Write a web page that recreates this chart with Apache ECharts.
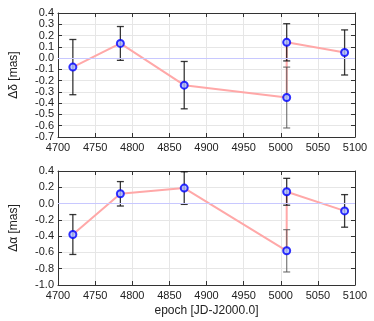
<!DOCTYPE html>
<html><head><meta charset="utf-8">
<script src="https://cdn.jsdelivr.net/npm/echarts@6/dist/echarts.min.js"></script>
<style>html,body{margin:0;padding:0;background:#fff}#c{width:374px;height:321px}</style>
</head><body><div id="c"></div>
<script>
// Epochs (JD - J2000.0), in line order
const epochs = [4720, 4784, 4870, 5008, 5008, 5086];
// Top panel: Δδ [mas]
const dDelta = [-0.08, 0.13, -0.24, -0.35, 0.14, 0.05];
const dDeltaErr = [0.245, 0.15, 0.21, 0.27, 0.165, 0.2];
// Bottom panel: Δα [mas]
const dAlpha = [-0.38, 0.12, 0.19, -0.58, 0.145, -0.09];
const dAlphaErr = [0.245, 0.15, 0.2, 0.26, 0.165, 0.2];
const DIM_INDEX = 3;

const font = 'Liberation Sans, Arial, sans-serif';
const chart = echarts.init(document.getElementById('c'), null, {renderer: 'canvas'});

function pts(ys, errs) { return epochs.map((x, i) => errs ? [x, ys[i], errs[i]] : [x, ys[i]]); }

function errRender(params, api) {
  const x = api.value(0), y = api.value(1), e = api.value(2);
  const top = api.coord([x, y + e]);
  const bot = api.coord([x, y - e]);
  const half = 3.5;
  const dim = params.dataIndex === DIM_INDEX;
  const style = {stroke: dim ? 'rgba(90,90,90,0.75)' : 'rgba(20,20,20,0.85)', lineWidth: 1.3, fill: null};
  return {type: 'group', children: [
    {type: 'line', shape: {x1: top[0], y1: top[1], x2: bot[0], y2: bot[1]}, style},
    {type: 'line', shape: {x1: top[0]-half, y1: top[1], x2: top[0]+half, y2: top[1]}, style},
    {type: 'line', shape: {x1: bot[0]-half, y1: bot[1], x2: bot[0]+half, y2: bot[1]}, style}
  ]};
}

const grids = [
  {left: 54, top: 13, width: 301, height: 124},
  {left: 54, top: 171, width: 301, height: 114}
];
const axisLine = {show: true, onZero: false, lineStyle: {color: '#333', width: 1}};
const tick = {show: true, inside: true, length: 4, lineStyle: {color: '#333'}};
const label = {color: '#222', fontSize: 11, fontFamily: font};
const split = {show: true, lineStyle: {color: '#e6e6e6', width: 1}};

const xAxes = [], yAxes = [];
[0, 1].forEach(g => {
  xAxes.push({type: 'value', gridIndex: g, min: 4700, max: 5100, interval: 50, position: 'bottom',
    axisLine, axisTick: tick, splitLine: split,
    axisLabel: Object.assign({margin: 5, formatter: v => String(v)}, label),
    name: g === 1 ? 'epoch [JD-J2000.0]' : '', nameLocation: 'middle', nameGap: 20,
    nameTextStyle: {color: '#222', fontSize: 12, fontFamily: font}});
  xAxes.push({type: 'value', gridIndex: g, min: 4700, max: 5100, interval: 50, position: 'top',
    axisLine, axisTick: tick, splitLine: {show: false}, axisLabel: {show: false}});
});
const yRanges = [[-0.7, 0.4, 0.1, 'Δδ [mas]'], [-1.0, 0.4, 0.2, 'Δα [mas]']];
[0, 1].forEach(g => {
  const r = yRanges[g];
  yAxes.push({type: 'value', gridIndex: g, min: r[0], max: r[1], interval: r[2], position: 'left',
    axisLine, axisTick: tick, splitLine: split,
    axisLabel: Object.assign({margin: 4, formatter: v => v.toFixed(1)}, label),
    name: r[3], nameLocation: 'middle', nameGap: 38, nameRotate: 90,
    nameTextStyle: {color: '#222', fontSize: 12, fontFamily: font}});
  yAxes.push({type: 'value', gridIndex: g, min: r[0], max: r[1], interval: r[2], position: 'right',
    axisLine, axisTick: tick, splitLine: {show: false}, axisLabel: {show: false}});
});

const series = [];
[[dDelta, dDeltaErr], [dAlpha, dAlphaErr]].forEach((d, g) => {
  const xi = g * 2, yi = g * 2;
  series.push({type: 'line', xAxisIndex: xi, yAxisIndex: yi, data: pts(d[0]), showSymbol: false,
    lineStyle: {color: '#ffa8a8', width: 2}, z: 2, silent: true, animation: false,
    markLine: {silent: true, symbol: 'none', label: {show: false}, animation: false,
      lineStyle: {color: '#c8c8ff', width: 1, type: 'solid'}, data: [{yAxis: 0}]}});
  series.push({type: 'custom', xAxisIndex: xi, yAxisIndex: yi, data: pts(d[0], d[1]),
    renderItem: errRender, z: 3, silent: true, animation: false});
  series.push({type: 'scatter', xAxisIndex: xi, yAxisIndex: yi, data: pts(d[0]), symbol: 'circle',
    symbolSize: 7, itemStyle: {color: '#aabbff', borderColor: '#0000ff', borderWidth: 2},
    z: 4, silent: true, animation: false});
});

chart.setOption({animation: false, backgroundColor: '#fff', grid: grids, xAxis: xAxes, yAxis: yAxes, series});
</script></body></html>
